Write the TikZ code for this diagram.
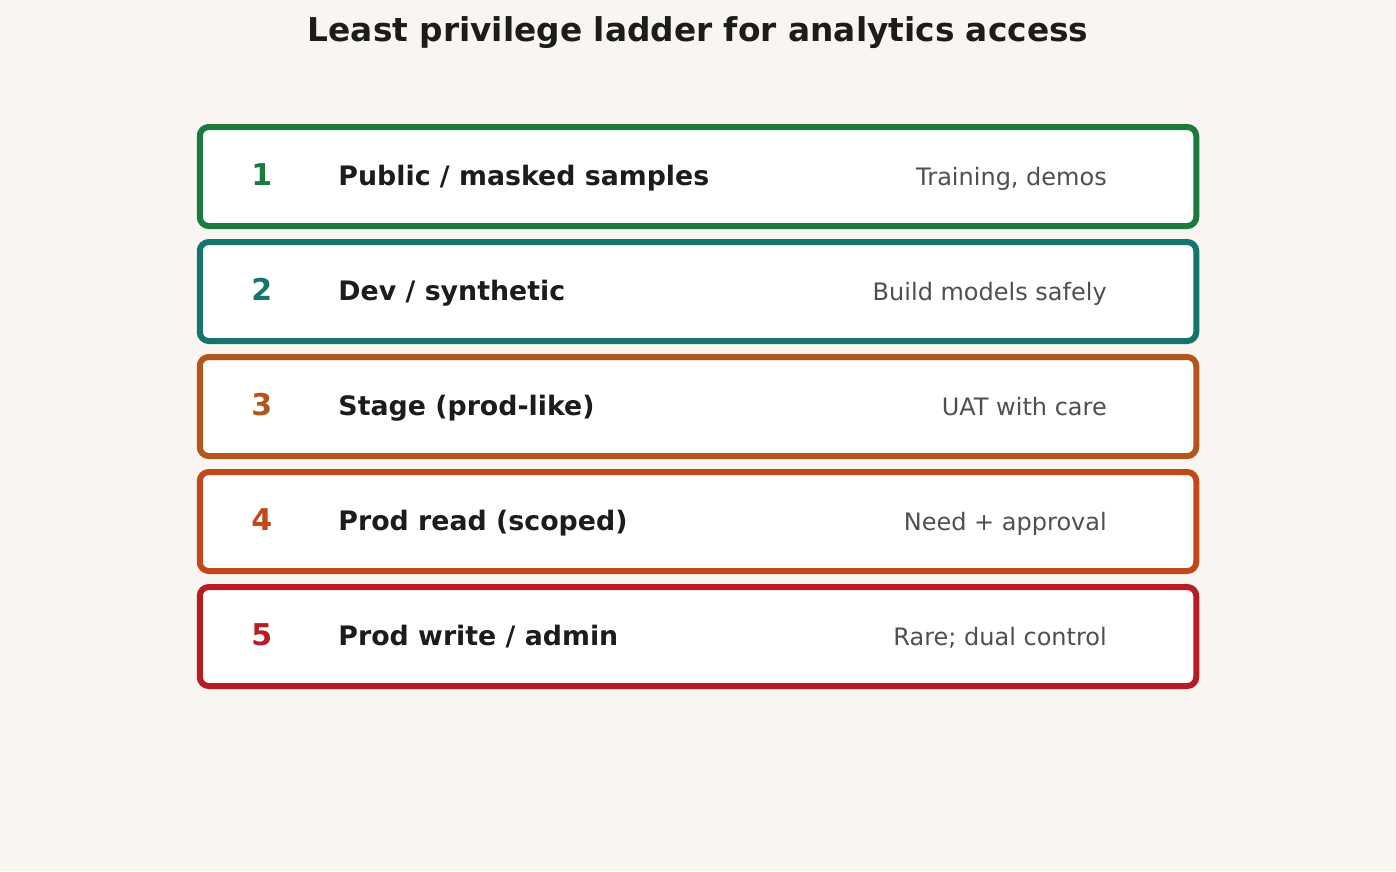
\documentclass[tikz,border=0pt]{standalone}
\usepackage{fontspec}
\setmainfont{DejaVu Sans}
\usetikzlibrary{positioning}
\definecolor{paper}{HTML}{F9F6F1}
\definecolor{ink}{HTML}{1C1C1C}
\definecolor{note}{HTML}{4F4F4F}
\definecolor{lvlA}{HTML}{1B7A3E}
\definecolor{lvlB}{HTML}{14756B}
\definecolor{lvlC}{HTML}{B3561B}
\definecolor{lvlD}{HTML}{C2471A}
\definecolor{lvlE}{HTML}{B71C24}

\begin{document}
\begin{tikzpicture}[x=1pt,y=-1pt,node distance=115pt,
rung/.style={draw=#1,line width=6pt,rounded corners=9pt,fill=white,minimum width=996.5pt,minimum height=99pt,inner sep=0pt},
num/.style={text=#1,font=\bfseries\fontsize{30}{34}\selectfont,inner sep=0pt,anchor=base,yshift=-9pt},
what/.style={text=ink,font=\bfseries\fontsize{26.8}{30}\selectfont,inner sep=0pt,anchor=base west,yshift=-9pt},
why/.style={text=note,font=\fontsize{24}{28}\selectfont,inner sep=0pt,anchor=base east,yshift=-9pt}]
\fill[paper] (0,0) rectangle (1396,871);
\useasboundingbox (0,0) rectangle (1396,871);
\node[text=ink,font=\bfseries\fontsize{32.8}{38}\selectfont,inner sep=0pt,anchor=base] (title) at (698,41) {Least privilege ladder for analytics access};

\node[rung=lvlA] (b1) at (698,176.5) {};
\node[rung=lvlB] (b2) [below of=b1] {};
\node[rung=lvlC] (b3) [below of=b2] {};
\node[rung=lvlD] (b4) [below of=b3] {};
\node[rung=lvlE] (b5) [below of=b4] {};

\node[num=lvlA] (n1) [right=65pt of b1.west,anchor=base] {1};
\node[num=lvlB] (n2) [right=65pt of b2.west,anchor=base] {2};
\node[num=lvlC] (n3) [right=65pt of b3.west,anchor=base] {3};
\node[num=lvlD] (n4) [right=65pt of b4.west,anchor=base] {4};
\node[num=lvlE] (n5) [right=65pt of b5.west,anchor=base] {5};

\node[what] (w1) [right=141.5pt of b1.west,anchor=base west] {Public / masked samples};
\node[what] (w2) [right=141.5pt of b2.west,anchor=base west] {Dev / synthetic};
\node[what] (w3) [right=141.5pt of b3.west,anchor=base west] {Stage (prod-like)};
\node[what] (w4) [right=141.5pt of b4.west,anchor=base west] {Prod read (scoped)};
\node[what] (w5) [right=141.5pt of b5.west,anchor=base west] {Prod write / admin};

\node[why] (u1) [left=92.3pt of b1.east,anchor=base east] {Training, demos};
\node[why] (u2) [left=92.3pt of b2.east,anchor=base east] {Build models safely};
\node[why] (u3) [left=92.3pt of b3.east,anchor=base east] {UAT with care};
\node[why] (u4) [left=92.3pt of b4.east,anchor=base east] {Need + approval};
\node[why] (u5) [left=92.3pt of b5.east,anchor=base east] {Rare; dual control};
\end{tikzpicture}
\end{document}
